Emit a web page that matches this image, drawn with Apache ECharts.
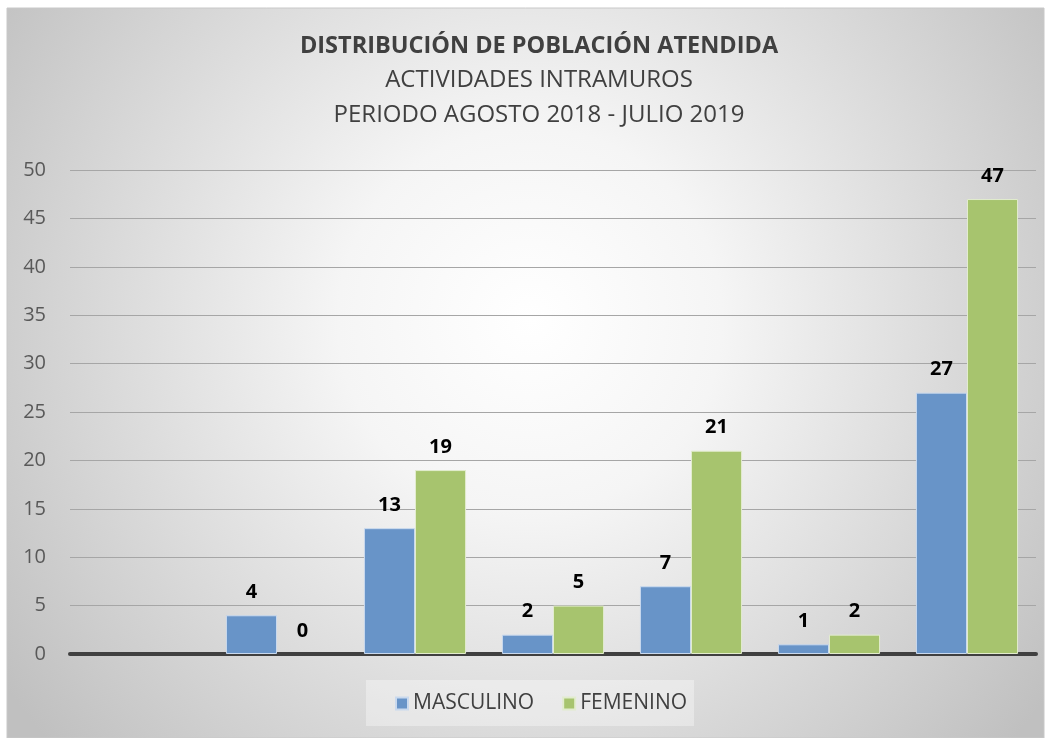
<!DOCTYPE html>
<html><head><meta charset="utf-8">
<script src="https://cdn.jsdelivr.net/npm/echarts@6/dist/echarts.min.js"></script>
<style>html,body{margin:0;padding:0;background:#fff}#c{width:1052px;height:738px}</style>
</head><body><div id="c"></div>
<script>
const categories = ['', '', '', '', '', '', ''];
const masculino = [null, 4, 13, 2, 7, 1, 27];
const femenino = [null, 0, 19, 5, 21, 2, 47];
const yTicks = [0, 5, 10, 15, 20, 25, 30, 35, 40, 45, 50];
const titleLines = ['DISTRIBUCIÓN DE POBLACIÓN ATENDIDA', 'ACTIVIDADES INTRAMUROS', 'PERIODO AGOSTO 2018 - JULIO 2019'];
const seriesNames = ['MASCULINO', 'FEMENINO'];

const chart = echarts.init(document.getElementById('c'), null, {renderer: 'canvas'});
const font = '"Open Sans", "Noto Sans", sans-serif';
const labelStyle = {show: true, position: 'top', distance: 13, color: '#000', fontWeight: 'bold', fontSize: 20, fontFamily: font};
const toItems = arr => arr.map(v => v === 0 ? {value: v, itemStyle: {borderWidth: 0}} : v);
chart.setOption({
  animation: false,
  backgroundColor: '#fff',
  graphic: [
    {type: 'rect', z: -100, shape: {x: 7, y: 8, width: 1037, height: 730},
     style: {fill: {type: 'radial', x: 530, y: 320, r: 640, global: true,
       colorStops: [{offset: 0, color: '#ffffff'}, {offset: 0.3, color: '#f5f5f5'}, {offset: 1, color: '#c0c0c0'}]},
       stroke: '#c8c8c8', lineWidth: 1}},
    {type: 'rect', z: -50, shape: {x: 366, y: 680, width: 328, height: 46}, style: {fill: 'rgba(255,255,255,0.35)'}}
  ],
  title: [
    {text: titleLines[0], left: 534, textAlign: 'center', top: 29, textStyle: {fontFamily: font, fontSize: 23.5, fontWeight: 'bold', color: '#404040'}},
    {text: titleLines[1], left: 534, textAlign: 'center', top: 63, textStyle: {fontFamily: font, fontSize: 24, fontWeight: 'normal', color: '#404040'}},
    {text: titleLines[2], left: 534, textAlign: 'center', top: 98, textStyle: {fontFamily: font, fontSize: 24, fontWeight: 'normal', color: '#404040'}}
  ],
  legend: {
    data: seriesNames, bottom: 19, left: 390, itemWidth: 12, itemHeight: 12, itemGap: 28,
    textStyle: {fontFamily: font, fontSize: 21, color: '#404040'}, icon: 'rect', padding: 5
  },
  grid: {left: 70, right: 16, top: 170, bottom: 84},
  xAxis: {type: 'category', data: categories, axisTick: {show: false}, axisLabel: {show: false},
    axisLine: {lineStyle: {color: '#404040', width: 4}}},
  yAxis: {type: 'value', min: 0, max: 50, interval: 5,
    axisLabel: {fontFamily: font, fontSize: 20, color: '#595959', margin: 24, formatter: v => yTicks.includes(v) ? String(v) : ''},
    splitLine: {lineStyle: {color: '#a6a6a6', width: 1}}, axisLine: {show: false}, axisTick: {show: false}},
  series: [
    {name: seriesNames[0], type: 'bar', data: toItems(masculino), barGap: '0%', barCategoryGap: '26%',
     itemStyle: {color: '#6894c8', borderColor: '#c9d9ee', borderWidth: 1}, label: labelStyle},
    {name: seriesNames[1], type: 'bar', data: toItems(femenino),
     itemStyle: {color: '#a7c46e', borderColor: '#e2ecce', borderWidth: 1}, label: labelStyle}
  ]
});
</script></body></html>
